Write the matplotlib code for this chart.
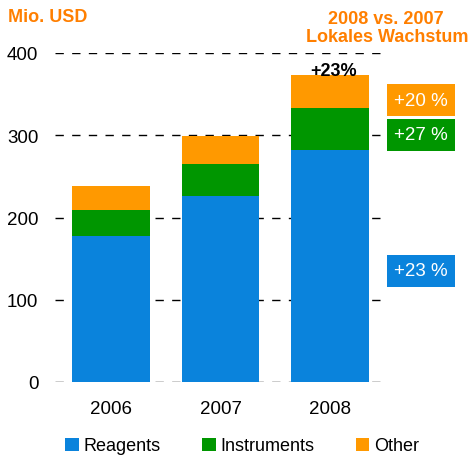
import matplotlib.pyplot as plt

plt.rcParams['font.family'] = ['Liberation Sans', 'DejaVu Sans']

years = ['2006', '2007', '2008']
reagents = [177, 226, 282]
instruments = [32, 39, 51]
other = [29, 34, 40]
growth_labels = ['+20 %', '+27 %', '+23 %']
total_growth = '+23%'

c_reag = '#0a83dc'
c_instr = '#009600'
c_other = '#ff9900'
c_head = '#ff7f00'

fig = plt.figure(figsize=(4.71, 4.56), dpi=100)
ax = fig.add_axes([55 / 471, 1 - 383 / 456, 330 / 471, (383 - 54) / 456])

x = range(len(years))
w = 0.71
ax.bar(x, reagents, w, color=c_reag, label='Reagents', zorder=2)
bottom2 = [r for r in reagents]
ax.bar(x, instruments, w, bottom=bottom2, color=c_instr, label='Instruments', zorder=2)
bottom3 = [r + i for r, i in zip(reagents, instruments)]
ax.bar(x, other, w, bottom=bottom3, color=c_other, label='Other', zorder=2)

ax.set_xlim(-0.51, 2.5)
ax.set_ylim(0, 400)
ax.set_yticks([0, 100, 200, 300, 400])
ax.yaxis.grid(True, color='black', linestyle=(0, (6, 6)), linewidth=1, zorder=0)
for s in ax.spines.values():
    s.set_visible(False)
ax.tick_params(length=0, labelsize=13.5, pad=12)
ax.tick_params(axis='x', pad=13)
ax.set_xticks(list(x))
ax.set_xticklabels(years)

tot = bottom3[-1] + other[-1]
ax.text(2.03, tot - 5, total_growth, ha='center', va='bottom', fontsize=13,
        fontweight='bold', color='black')

fig.text(8 / 471, 1 - 17 / 456, 'Mio. USD', color=c_head, fontsize=13,
         fontweight='bold', ha='left', va='center')
fig.text(386 / 471, 1 - 20 / 456, '2008 vs. 2007', color=c_head, fontsize=13,
         fontweight='bold', ha='center', va='center')
fig.text(468 / 471, 1 - 38 / 456, 'Lokales Wachstum', color=c_head, fontsize=13,
         fontweight='bold', ha='right', va='center')

box_info = [(growth_labels[0], c_other, 101), (growth_labels[1], c_instr, 136),
            (growth_labels[2], c_reag, 272)]
for lab, col, ypx in box_info:
    fig.text(421 / 471, 1 - ypx / 456, lab, color='white', fontsize=13.5,
             ha='center', va='center',
             bbox=dict(boxstyle='square,pad=0.38', facecolor=col, edgecolor='none'))

fig.legend(loc='center', bbox_to_anchor=(242 / 471, 1 - 447 / 456), ncol=3, frameon=False,
           fontsize=13, handlelength=0.75, handleheight=0.75, handletextpad=0.25,
           columnspacing=2.3, borderaxespad=0)

fig.savefig('out.png', dpi=100)
